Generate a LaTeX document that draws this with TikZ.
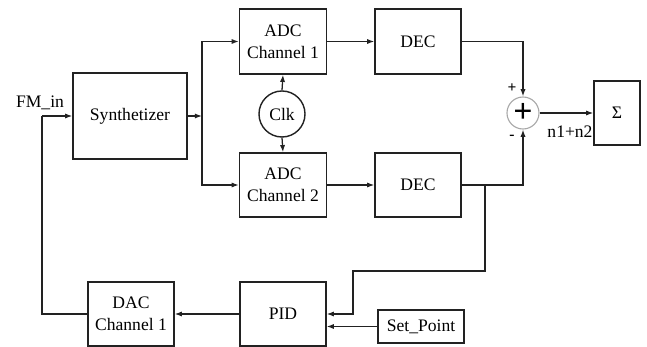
\documentclass[tikz,border=0pt]{standalone}
\usepackage{fontspec}
\setmainfont{Liberation Serif}
\usepackage{tikz}
\usetikzlibrary{arrows.meta, calc, positioning}
\definecolor{lnblack}{HTML}{222222}
\definecolor{sumgray}{HTML}{A8A8A8}
\tikzset{
  blk/.style     = {draw=lnblack, line width=1pt, inner sep=0pt, align=center,
                    font=\rmfamily\fontsize{12.5}{15.5}\selectfont},
  clkcirc/.style = {circle, draw=lnblack, line width=1pt, inner sep=0pt,
                    minimum size=1.15cm, font=\rmfamily\fontsize{12.5}{15.5}\selectfont},
  sumcirc/.style = {circle, draw=sumgray, line width=0.8pt, inner sep=0pt,
                    minimum size=0.8cm},
  arr/.style     = {-{Latex[length=1.8mm, width=1.3mm]}, draw=lnblack, line width=0.9pt},
  wire/.style    = {draw=lnblack, line width=0.9pt},
  siglab/.style  = {font=\rmfamily\fontsize{12.5}{15.5}\selectfont, inner sep=0pt},
  signlab/.style = {font=\rmfamily\bfseries\fontsize{11}{11}\selectfont, inner sep=0pt},
}

\begin{document}
\begin{tikzpicture}[x=0.025cm, y=-0.025cm]
  \useasboundingbox (0,0) rectangle (647,347);
  \node[blk, minimum width=2.85cm, minimum height=2.15cm] (synth) at (130,116) {Synthetizer};
  \node[blk, minimum width=2.175cm, minimum height=1.625cm] (adc1) at (283,41.5) {ADC\\Channel 1};
  \node[blk, minimum width=2.15cm, minimum height=1.625cm] (dec1) at (418,41.5) {DEC};
  \node[blk, minimum width=2.175cm, minimum height=1.6cm] (adc2) at (283,185) {ADC\\Channel 2};
  \node[blk, minimum width=2.15cm, minimum height=1.6cm] (dec2) at (418,185) {DEC};
  \node[clkcirc] (clk) at (282,114) {Clk};
  \node[sumcirc] (sum) at (523,113) {\rmfamily\fontsize{24}{24}\selectfont\textbf{+}};
  \node[blk, minimum width=1.15cm, minimum height=1.6cm] (sigma) at (617,113) {Σ};
  \node[blk, minimum width=2.15cm, minimum height=1.6cm] (dac) at (131,314) {DAC\\Channel 1};
  \node[blk, minimum width=2.15cm, minimum height=1.6cm] (pid) at (283,314) {PID};
  \node[blk, minimum width=2.15cm, minimum height=0.825cm] (setpt) at (421,326.5) {Set\_Point};
  \node[siglab] (fmin) at (40,103) {FM\_in};
  \node[signlab] (plus) at (512,88) {+};
  \node[signlab] (minus) at (512,137) {-};
  \node[siglab] (nsum) at (570,132) {n1+n2};
  \coordinate (fbk) at (42,116);
  \coordinate (split) at (202,116);
  \coordinate (tap) at (485,185);
  \coordinate (bend) at (353,271);
  \draw[arr] (fbk) -- (synth.west);
  \draw[wire] (dac.west) -| (fbk);
  \draw[arr] (synth.east) -- (split);
  \draw[arr] (split) |- (adc1.west);
  \draw[arr] (split) |- (adc2.west);
  \draw[arr] (adc1.east) -- (dec1.west);
  \draw[arr] (adc2.east) -- (dec2.west);
  \draw[arr] (clk.north) -- (adc1.south);
  \draw[arr] (clk.south) -- (adc2.north);
  \draw[arr] (dec1.east) -| (sum.north);
  \draw[arr] (dec2.east) -| (sum.south);
  \draw[arr] (sum.east) -- (sigma.west);
  \draw[arr] (tap) |- (bend) |- (pid.east);
  \draw[arr] (setpt.west) -- (setpt.west -| pid.east);
  \draw[arr] (pid.west) -- (dac.east);
\end{tikzpicture}
\end{document}
